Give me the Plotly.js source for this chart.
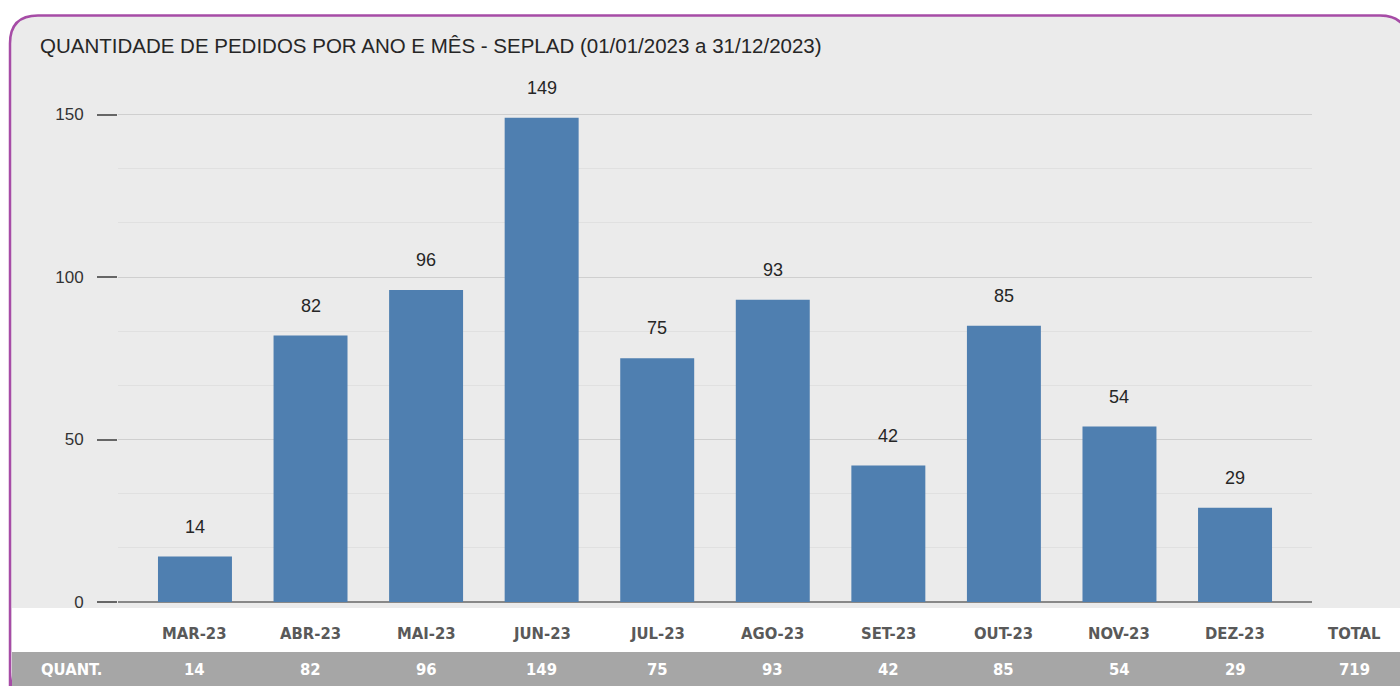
<!DOCTYPE html>
<html>
<head>
<meta charset="utf-8">
<script src="https://cdn.plot.ly/plotly-3.0.1.min.js"></script>
<style>html,body{margin:0;padding:0;background:#fff;}#chart{width:1400px;height:686px;}</style>
</head>
<body>
<div id="chart"></div>
<script>
const months = ["MAR-23","ABR-23","MAI-23","JUN-23","JUL-23","AGO-23","SET-23","OUT-23","NOV-23","DEZ-23"];
const values = [14, 82, 96, 149, 75, 93, 42, 85, 54, 29];
const rowLabel = "QUANT.";
const totalLabel = "TOTAL";
const titleText = "QUANTIDADE DE PEDIDOS POR ANO E MÊS - SEPLAD (01/01/2023 a 31/12/2023)";
const yTicks = [0, 50, 100, 150];

const W = 1400, H = 686;
const M = {l: 118, r: 88, t: 81.5, b: 84};
const plotW = W - M.l - M.r, plotH = H - M.t - M.b;
const px = x => (x - M.l) / plotW;
const py = y => (H - M.b - y) / plotH;

const idx = months.map((_, i) => i);
const total = values.reduce((a, b) => a + b, 0);
const tableFont = "Liberation Sans Narrow, DejaVu Sans Condensed, Arial Narrow, sans-serif";
const mainFont = "Liberation Sans, Arial, sans-serif";

const annotations = [];
values.forEach((v, i) => {
  annotations.push({x: i, y: v, xref: 'x', yref: 'y', text: String(v), showarrow: false,
    xanchor: 'center', yanchor: 'bottom', yshift: 18, font: {family: mainFont, size: 18, color: '#262626'}});
  annotations.push({x: i, y: py(634), xref: 'x', yref: 'paper', text: '<b>' + months[i] + '</b>', showarrow: false,
    xanchor: 'center', yanchor: 'middle', font: {family: tableFont, size: 16.5, color: '#595959'}});
  annotations.push({x: i, y: py(670), xref: 'x', yref: 'paper', text: '<b>' + v + '</b>', showarrow: false,
    xanchor: 'center', yanchor: 'middle', font: {family: tableFont, size: 16.5, color: '#ffffff'}});
});
annotations.push({x: px(1354), y: py(634), xref: 'paper', yref: 'paper', text: '<b>' + totalLabel + '</b>', showarrow: false,
  xanchor: 'center', yanchor: 'middle', font: {family: tableFont, size: 16.5, color: '#595959'}});
annotations.push({x: px(1354), y: py(670), xref: 'paper', yref: 'paper', text: '<b>' + total + '</b>', showarrow: false,
  xanchor: 'center', yanchor: 'middle', font: {family: tableFont, size: 16.5, color: '#ffffff'}});
annotations.push({x: px(71), y: py(670), xref: 'paper', yref: 'paper', text: '<b>' + rowLabel + '</b>', showarrow: false,
  xanchor: 'center', yanchor: 'middle', font: {family: tableFont, size: 16.5, color: '#ffffff'}});
annotations.push({x: px(38), y: py(45), xref: 'paper', yref: 'paper', text: titleText, showarrow: false,
  xanchor: 'left', yanchor: 'middle', font: {family: mainFont, size: 20.5, color: '#262626'}});

function boxPath(x0, y0, x1, y1, r) {
  const P = (x, y) => px(x) + ',' + py(y);
  return 'M ' + P(x0, y1) + ' L ' + P(x0, y0 + r) + ' Q ' + P(x0, y0) + ' ' + P(x0 + r, y0) +
    ' L ' + P(x1 - r, y0) + ' Q ' + P(x1, y0) + ' ' + P(x1, y0 + r) + ' L ' + P(x1, y1 - r) +
    ' Q ' + P(x1, y1) + ' ' + P(x1 - r, y1) + ' L ' + P(x0 + r, y1) + ' Q ' + P(x0, y1) + ' ' + P(x0, y1 - r) + ' Z';
}

const shapes = [
  {type: 'path', xref: 'paper', yref: 'paper', path: boxPath(10, 15, 1408, 700, 28),
   fillcolor: '#ebebeb', line: {color: '#a64ca6', width: 2.5}, layer: 'below'},
  {type: 'rect', xref: 'paper', yref: 'paper', x0: px(12), x1: px(1400), y0: py(652), y1: py(608),
   fillcolor: '#ffffff', line: {width: 0}, layer: 'below'},
  {type: 'rect', xref: 'paper', yref: 'paper', x0: px(12), x1: px(1400), y0: py(690), y1: py(652),
   fillcolor: '#a6a6a6', line: {width: 0}, layer: 'below'}
];

const trace = {
  type: 'bar', x: idx, y: values, width: 0.64,
  marker: {color: '#4f7fb0', line: {width: 0}},
  hoverinfo: 'skip'
};

const layout = {
  width: W, height: H,
  margin: M,
  paper_bgcolor: '#ffffff',
  plot_bgcolor: 'rgba(0,0,0,0)',
  showlegend: false,
  xaxis: {range: [-0.666, 9.666], showticklabels: false, showgrid: false, zeroline: false, ticks: '', fixedrange: true},
  yaxis: {range: [0, 160], tickvals: yTicks, ticktext: yTicks.map(String), ticks: 'outside', ticklen: 20, tickwidth: 2,
    ticklabelstandoff: 10,
    tickcolor: '#666', tickfont: {family: mainFont, size: 17, color: '#333'},
    showgrid: true, gridcolor: '#cfcfcf', gridwidth: 1,
    minor: {dtick: 50/3, showgrid: true, gridcolor: '#e0e0e0', gridwidth: 1},
    zeroline: true, zerolinecolor: '#888', zerolinewidth: 2, showline: false},
  shapes: shapes,
  annotations: annotations
};

Plotly.newPlot('chart', [trace], layout, {staticPlot: true, displayModeBar: false});
</script>
</body>
</html>
